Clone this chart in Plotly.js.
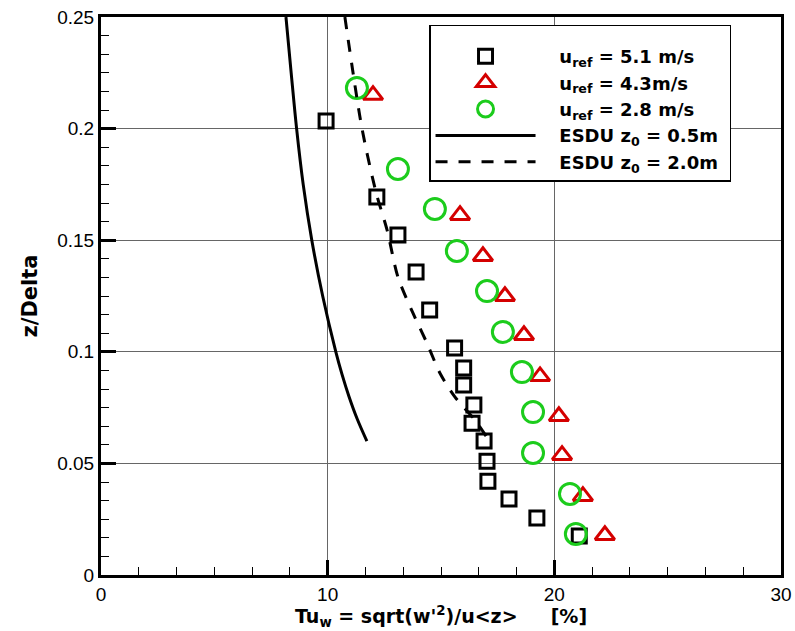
<!DOCTYPE html>
<html>
<head>
<meta charset="utf-8">
<script src="https://cdn.plot.ly/plotly-3.0.1.min.js"></script>
<style>html,body{margin:0;padding:0;background:#fff;}#chart{width:795px;height:631px;}</style>
</head>
<body>
<div id="chart"></div>
<script>
// Data
const sqX = [9.93, 12.17, 13.1, 13.9, 14.5, 15.6, 16.0, 16.0, 16.45, 16.37, 16.9, 17.03, 17.07, 18.0, 19.23, 21.1];
const sqY = [0.2034, 0.1694, 0.1523, 0.1358, 0.1187, 0.1017, 0.0927, 0.0851, 0.0762, 0.068, 0.060, 0.051, 0.042, 0.034, 0.0255, 0.0175];

const triX = [12.0, 15.84, 16.85, 17.82, 18.66, 19.37, 20.2, 20.34, 21.26, 22.23];
const triY = [0.2150, 0.1612, 0.1428, 0.1249, 0.1074, 0.0890, 0.0711, 0.0537, 0.0353, 0.0178];

const cirX = [11.29, 13.1, 14.73, 15.7, 17.03, 17.73, 18.57, 19.06, 19.06, 20.69, 20.95];
const cirY = [0.2182, 0.1819, 0.164, 0.1452, 0.1272, 0.1089, 0.0909, 0.073, 0.0547, 0.0363, 0.0184];

const esdu05X = [8.16, 8.39, 8.63, 8.92, 9.30, 9.78, 10.36, 10.63, 10.94, 11.30, 11.73];
const esdu05Y = [0.25, 0.225, 0.2, 0.175, 0.15, 0.125, 0.1, 0.09, 0.08, 0.07, 0.06];

const esdu20X = [10.76, 11.51, 12.13, 12.62, 13.1, 13.76, 14.38, 14.95, 15.62, 16.5, 17.16];
const esdu20Y = [0.25, 0.2003, 0.1716, 0.1546, 0.1335, 0.1174, 0.1039, 0.0905, 0.0797, 0.0694, 0.0596];

const xTitle = 'Tu<sub>w</sub> = sqrt(w\'<sup>2</sup>)/u&lt;z&gt;\u00a0\u00a0\u00a0\u00a0\u00a0[%]';
const yTitle = 'z/Delta';

const pad = '\u00a0\u00a0\u00a0';
const names = [pad + "u<sub>ref</sub> = 5.1 m/s", pad + "u<sub>ref</sub> = 4.3m/s", pad + "u<sub>ref</sub> = 2.8 m/s",
               pad + "ESDU z<sub>0</sub> = 0.5m\u00a0", pad + "ESDU z<sub>0</sub> = 2.0m\u00a0"];

const traces = [
  {x: sqX, y: sqY, name: names[0], mode: 'markers', type: 'scatter',
   marker: {symbol: 'square-open', size: 14, color: '#000', line: {width: 3, color: '#000'}}},
  {x: triX, y: triY, name: names[1], mode: 'markers', type: 'scatter',
   marker: {symbol: 'triangle-up-open', size: 17, color: '#d40000', line: {width: 3, color: '#d40000'}}},
  {x: cirX, y: cirY, name: names[2], mode: 'markers', type: 'scatter',
   marker: {symbol: 'circle-open', size: 21, color: '#1ccc1c', line: {width: 3, color: '#1ccc1c'}}},
  {x: esdu05X, y: esdu05Y, name: names[3], mode: 'lines', type: 'scatter',
   line: {color: '#000', width: 3, shape: 'spline', smoothing: 1}},
  {x: esdu20X, y: esdu20Y, name: names[4], mode: 'lines', type: 'scatter',
   line: {color: '#000', width: 3, dash: '12px,11px', shape: 'spline', smoothing: 0.8}}
];

const axisFont = {family: 'Liberation Sans, Arial, sans-serif', size: 19, color: '#000'};

const layout = {
  width: 795, height: 631,
  margin: {l: 101, r: 14, t: 17, b: 56},
  paper_bgcolor: '#fff', plot_bgcolor: '#fff',
  showlegend: true,
  legend: {
    x: 0.4824, y: 0.986, xanchor: 'left', yanchor: 'top',
    bgcolor: '#fff', bordercolor: '#000', borderwidth: 1.5,
    font: {family: 'DejaVu Sans, sans-serif', size: 18, color: '#000', weight: 'bold'},
    title: {text: ' ', font: {size: 9}},
    itemwidth: 100, tracegroupgap: 0
  },
  annotations: [{
    text: xTitle, xref: 'paper', yref: 'paper', x: 0.5, y: -0.074,
    xanchor: 'center', yanchor: 'middle', showarrow: false,
    font: {family: 'DejaVu Sans, sans-serif', size: 19, color: '#000', weight: 'bold'}
  }],
  xaxis: {
    range: [0, 30], dtick: 10, tick0: 0,
    ticks: 'inside', ticklen: 15, tickwidth: 3, tickcolor: '#000',
    showline: true, linewidth: 3, linecolor: '#000', mirror: true,
    showgrid: true, gridcolor: '#666', gridwidth: 1, zeroline: false,
    tickfont: axisFont,
    minor: {dtick: 10/6, tick0: 0, ticks: 'inside', ticklen: 8, tickwidth: 1, tickcolor: '#000', showgrid: false}
  },
  yaxis: {
    range: [0, 0.25], dtick: 0.05, tick0: 0,
    ticks: 'inside', ticklen: 15, tickwidth: 3, tickcolor: '#000',
    showline: true, linewidth: 3, linecolor: '#000', mirror: true,
    showgrid: true, gridcolor: '#666', gridwidth: 1, zeroline: false,
    tickfont: axisFont,
    minor: {dtick: 0.05/6, tick0: 0, ticks: 'inside', ticklen: 8, tickwidth: 1, tickcolor: '#000', showgrid: false},
    title: {text: yTitle, font: {family: 'DejaVu Sans, sans-serif', size: 21, color: '#000', weight: 'bold'}, standoff: 14}
  }
};

Plotly.newPlot('chart', traces, layout, {displayModeBar: false, staticPlot: true});
</script>
</body>
</html>
